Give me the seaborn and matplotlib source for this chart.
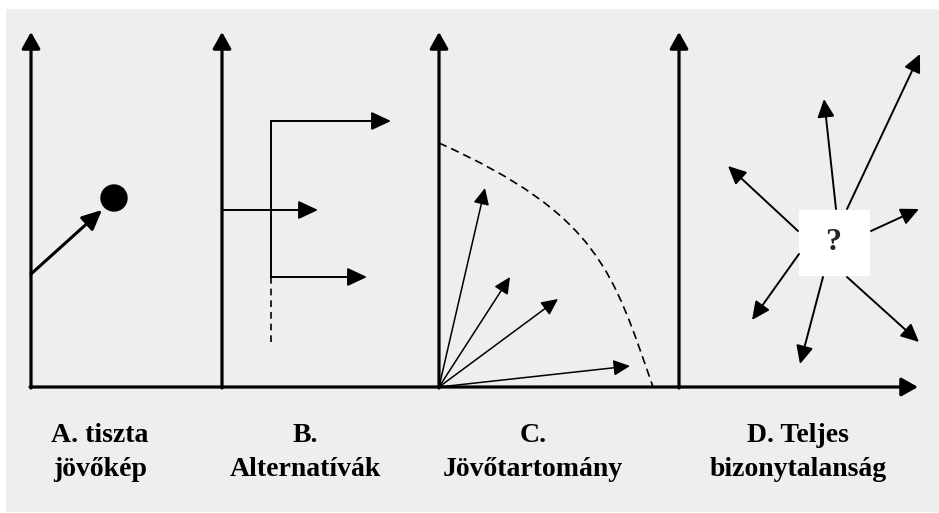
import numpy as np
import matplotlib
matplotlib.use("Agg")
import matplotlib.pyplot as plt
import seaborn as sns
from matplotlib.patches import Rectangle, Circle, PathPatch
from matplotlib.path import Path

# --- diagram geometry (pixel space of the original picture) ---
axis_x = [31, 222, 439, 679]          # vertical axes of the four panels
axis_top = 32
baseline_y = 387
baseline_x = [30, 918]

# A. clear vision of the future
a_arrow = [(31, 274), (102, 210)]
a_dot = (114, 198)

# B. alternatives
b_branch_x = 271
b_branch_top = 121
b_branch_solid_end = 277
b_branch_dash_end = 345
b_arrows = [[(222, 210), (318, 210)],
            [(271, 121), (391, 121)],
            [(271, 277), (367, 277)]]

# C. range of futures
c_origin = (439, 387)
c_tips = [(485, 188), (510, 277), (558, 299), (630, 366)]
c_curve = [(439, 143), (599, 215), (613, 272), (653, 387)]

# D. total uncertainty
d_box = (799, 210, 71, 66)
d_arrows = [[(798, 231), (728, 166)],
            [(836, 209), (824, 99)],
            [(847, 209), (920, 54)],
            [(871, 231), (919, 209)],
            [(799, 254), (752, 320)],
            [(823, 277), (800, 364)],
            [(847, 277), (919, 342)]]

labels = ["A. tiszta\njövőkép", "B.\nAlternatívák",
          "C.\nJövőtartomány", "D. Teljes\nbizonytalanság"]
label_x = [100, 305, 533, 798]
label_y = [435, 470]

sns.set_theme(style="white")

fig = plt.figure(figsize=(9.39, 5.13), dpi=100)
ax = fig.add_axes([0, 0, 1, 1])
ax.set_xlim(0, 939)
ax.set_ylim(513, 0)
ax.axis("off")

ax.add_patch(Rectangle((6, 9), 933, 503, facecolor="#eeeeee", edgecolor="none", zorder=0))


def arrow(p0, p1, lw, hl, hw):
    ax.annotate("", xy=p1, xytext=p0,
                arrowprops=dict(arrowstyle=f"-|>,head_length={hl},head_width={hw}",
                                color="black", lw=lw, shrinkA=0, shrinkB=0,
                                mutation_scale=20),
                zorder=3)


# axes
for x in axis_x:
    arrow((x, baseline_y + 1), (x, axis_top), 2.3, 0.5, 0.28)
arrow((baseline_x[0], baseline_y), (baseline_x[1], baseline_y), 2.3, 0.5, 0.28)

# panel A
arrow(a_arrow[0], a_arrow[1], 2.2, 0.6, 0.28)
ax.add_patch(Circle(a_dot, 13, color="black", zorder=3))

# panel B
ax.plot([b_branch_x, b_branch_x], [b_branch_top, b_branch_solid_end], color="black", lw=1.4)
ax.plot([b_branch_x, b_branch_x], [b_branch_solid_end, b_branch_dash_end], color="black",
        lw=1.2, ls=(0, (4, 3)))
for p0, p1 in b_arrows:
    arrow(p0, p1, 1.4, 0.6, 0.28)

# panel C
for tip in c_tips:
    arrow(c_origin, tip, 1.1, 0.5, 0.24)
curve = Path(c_curve, [Path.MOVETO, Path.CURVE4, Path.CURVE4, Path.CURVE4])
ax.add_patch(PathPatch(curve, facecolor="none", edgecolor="black", lw=1.2,
                       ls=(0, (5, 3)), zorder=2))

# panel D
ax.add_patch(Rectangle(d_box[:2], d_box[2], d_box[3], facecolor="white", edgecolor="none", zorder=2))
ax.text(d_box[0] + d_box[2] / 2 - 1, d_box[1] + d_box[3] / 2, "?", ha="center", va="center",
        family="Liberation Serif", weight="bold", fontsize=23, zorder=4)
for p0, p1 in d_arrows:
    arrow(p0, p1, 1.4, 0.55, 0.26)

# labels
for text, x in zip(labels, label_x):
    top, bottom = text.split("\n")
    ax.text(x, label_y[0], top, ha="center", va="center",
            family="Liberation Serif", weight="bold", fontsize=20, color="black")
    ax.text(x, label_y[1], bottom, ha="center", va="center",
            family="Liberation Serif", weight="bold", fontsize=20, color="black")

fig.savefig("out.png", dpi=100)
